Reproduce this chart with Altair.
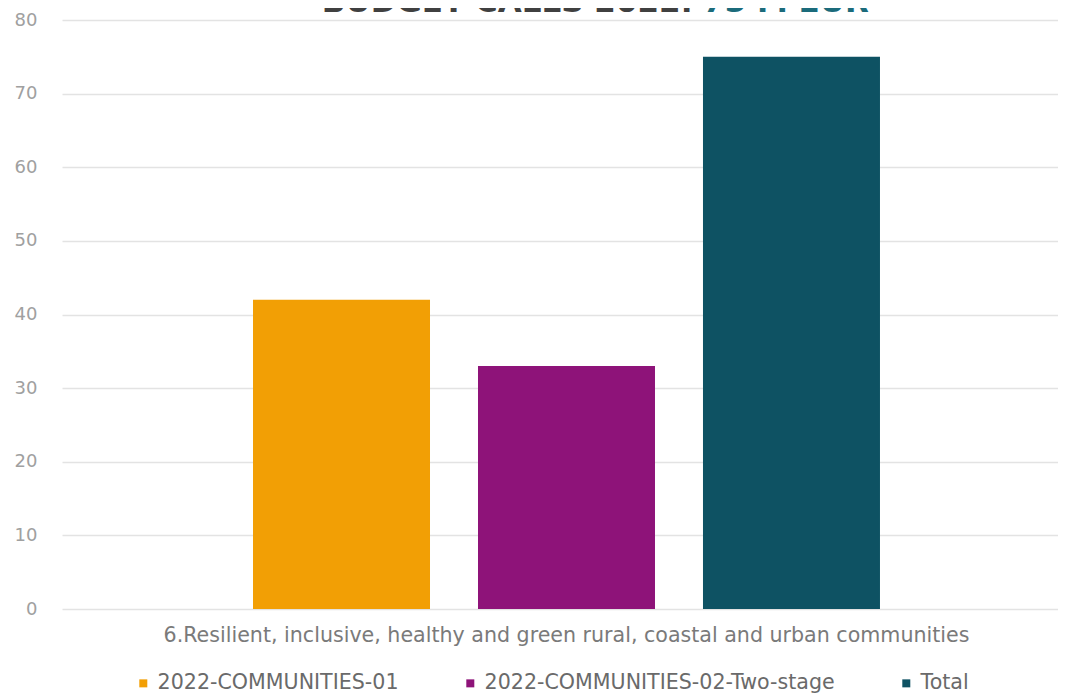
import altair as alt
import pandas as pd

# ---- data ----
category = "6.Resilient, inclusive, healthy and green rural, coastal and urban communities"
series = ["2022-COMMUNITIES-01", "2022-COMMUNITIES-02-Two-stage", "Total"]
values = [42, 33, 75]
colors = ["#F29F05", "#8E1379", "#0E5263"]
y_ticks = [0, 10, 20, 30, 40, 50, 60, 70, 80]
title_left = "BUDGET CALLS 2022:"
title_right = "75 M EUR"

df = pd.DataFrame({"category": [category] * len(series), "series": series, "value": values})

FONT = "DejaVu Sans"

bars = alt.Chart(df).mark_bar().encode(
    x=alt.X(
        "category:N",
        scale=alt.Scale(paddingInner=0, paddingOuter=0.2943, align=0.5176),
        axis=alt.Axis(
            title=None, labelAngle=0, ticks=False, tickSize=0, domain=False,
            labelPadding=16, labelFontSize=20.6, labelFont=FONT, labelColor="#7a7a7a",
            labelLimit=0,
        ),
    ),
    xOffset=alt.XOffset(
        "series:N", sort=series,
        scale=alt.Scale(paddingInner=0.2133, paddingOuter=0),
    ),
    y=alt.Y(
        "value:Q",
        scale=alt.Scale(domain=[0, 80], nice=False),
        axis=alt.Axis(
            title=None, values=y_ticks, domain=False, ticks=False, labelPadding=25,
            labelFontSize=18, labelFont=FONT, labelColor="#a0a0a0",
            grid=True, gridColor="#e3e3e3", gridWidth=1.5,
        ),
    ),
    color=alt.Color(
        "series:N", sort=series,
        scale=alt.Scale(domain=series, range=colors),
        legend=alt.Legend(
            title=None, orient="none", legendX=71, legendY=653, direction="horizontal",
            symbolType="square", symbolSize=64, symbolStrokeWidth=0,
            labelFontSize=20.6, labelFont=FONT, labelColor="#6a6a6a",
            columnPadding=61, labelLimit=0, padding=0, labelOffset=4,
        ),
    ),
)

t1 = alt.Chart(pd.DataFrame({"t": [title_left]})).mark_text(
    align="right", baseline="alphabetic", font=FONT, fontSize=31, fontWeight="bold",
    color="#404040",
).encode(text="t:N", x=alt.value(631), y=alt.value(-8))

t2 = alt.Chart(pd.DataFrame({"t": [title_right]})).mark_text(
    align="left", baseline="alphabetic", font=FONT, fontSize=31, fontWeight="bold",
    color="#1B6B7B",
).encode(text="t:N", x=alt.value(641), y=alt.value(-8))

chart = alt.layer(bars, t1, t2).properties(
    width=996,
    height=589,
    padding={"left": 54, "top": 12, "right": 0, "bottom": 86},
    autosize=alt.AutoSizeParams(type="none"),
    background="white",
).configure_view(stroke=None)

chart.save("out.html", embed_options={"renderer": "svg", "actions": False})
